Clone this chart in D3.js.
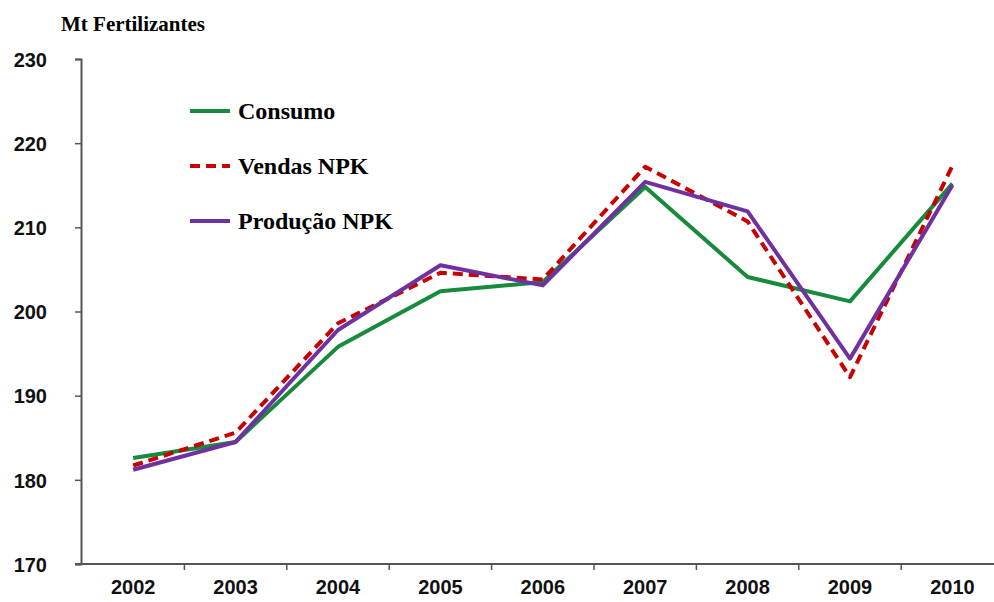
<!DOCTYPE html>
<html>
<head>
<meta charset="utf-8">
<script src="https://cdn.jsdelivr.net/npm/d3@7"></script>
<style>
  body { margin: 0; background: #fff; }
  svg { display: block; }
</style>
</head>
<body>
<div id="container"></div>
<script>
const w = 994;
const h = 602;

const years = ["2002", "2003", "2004", "2005", "2006", "2007", "2008", "2009", "2010"];
const consumo = [182.6, 184.5, 195.8, 202.4, 203.5, 214.8, 204.1, 201.2, 215.2];
const vendas = [181.7, 185.6, 198.6, 204.6, 203.8, 217.2, 210.7, 192.2, 217.3];
const producao = [181.2, 184.5, 197.8, 205.5, 203.1, 215.4, 211.9, 194.4, 215.0];
const yTicks = [170, 180, 190, 200, 210, 220, 230];

const series = [
  { name: "Consumo", values: consumo, color: "#178a3c", dash: null },
  { name: "Vendas NPK", values: vendas, color: "#c80000", dash: "10,6" },
  { name: "Produção NPK", values: producao, color: "#7030a0", dash: null }
];

const svg = d3.select("#container").append("svg")
  .attr("width", w).attr("height", h);

const x = d3.scaleBand()
  .domain(years)
  .range([82, 82 + 102.4 * years.length]);

const y = d3.scaleLinear()
  .domain([170, 230])
  .range([564, 59]);

// title
svg.append("text")
  .attr("x", 61).attr("y", 31)
  .style("font-family", "'Liberation Serif', 'Times New Roman', serif")
  .style("font-weight", "bold")
  .style("font-size", "21px")
  .text("Mt Fertilizantes");

// y axis
const yAxis = d3.axisLeft(y).tickValues(yTicks).tickSize(6).tickPadding(28);
const yg = svg.append("g")
  .attr("transform", "translate(81,0)")
  .call(yAxis);

// x axis
const xAxis = d3.axisBottom(x).tickSize(0).tickPadding(16);
const xg = svg.append("g")
  .attr("transform", "translate(0,564)")
  .call(xAxis);
xg.select(".domain").attr("d", "M75,0H994");

// tick marks at band boundaries
xg.selectAll("line.sep")
  .data(years.slice(1))
  .enter().append("line")
  .attr("class", "sep")
  .attr("x1", d => x(d)).attr("x2", d => x(d))
  .attr("y1", 0).attr("y2", 6)
  .attr("stroke", "#555").attr("stroke-width", 1.5);

[yg, xg].forEach(g => {
  g.select(".domain").attr("stroke", "#555").attr("stroke-width", 2);
  g.selectAll(".tick line").attr("stroke", "#555").attr("stroke-width", 1.5);
  g.selectAll(".tick text")
    .style("font-family", "'Liberation Sans', Arial, sans-serif")
    .style("font-weight", "bold")
    .style("font-size", "20px")
    .attr("fill", "#111");
});
yg.selectAll(".tick text").attr("dy", "0.36em");

// lines
const line = d3.line()
  .x((d, i) => x(years[i]) + x.bandwidth() / 2)
  .y(d => y(d));

series.forEach(s => {
  svg.append("path")
    .datum(s.values)
    .attr("d", line)
    .attr("fill", "none")
    .attr("stroke", s.color)
    .attr("stroke-width", 4)
    .attr("stroke-linejoin", "round")
    .attr("stroke-dasharray", s.dash);
});

// legend
const legend = svg.append("g").attr("transform", "translate(190,111)");
series.forEach((s, i) => {
  const row = legend.append("g").attr("transform", "translate(0," + (i * 55) + ")");
  row.append("line")
    .attr("x1", 0).attr("x2", 40)
    .attr("stroke", s.color)
    .attr("stroke-width", 4)
    .attr("stroke-dasharray", s.dash);
  row.append("text")
    .attr("x", 48).attr("y", 8)
    .style("font-family", "'Liberation Serif', 'Times New Roman', serif")
    .style("font-weight", "bold")
    .style("font-size", "24px")
    .text(s.name);
});
</script>
</body>
</html>
